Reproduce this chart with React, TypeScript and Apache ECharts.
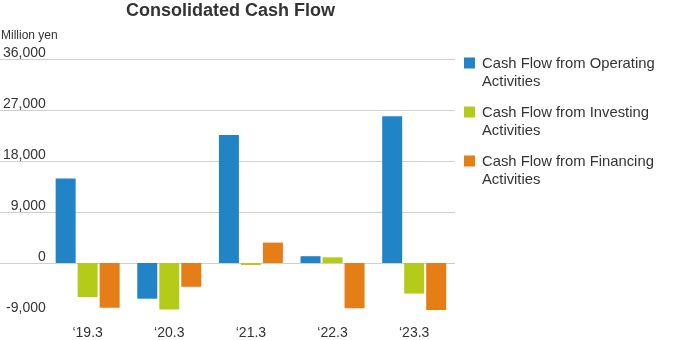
import React, { useEffect, useRef } from "react";
import * as echarts from "echarts";

const categories = ["\u201819.3", "\u201820.3", "\u201821.3", "\u201822.3", "\u201823.3"];
const operating = [14900, -6300, 22600, 1200, 25900];
const investing = [-6000, -8200, -350, 1000, -5400];
const financing = [-7900, -4200, 3600, -8000, -8300];
const seriesNames = [
  "Cash Flow from Operating\nActivities",
  "Cash Flow from Investing\nActivities",
  "Cash Flow from Financing\nActivities",
];
const colors = ["#2184c6", "#b5cb1a", "#e67e17"];
const yMin = -9000;
const yMax = 36000;
const yInterval = 9000;

const FONT = "'Liberation Sans', Arial, sans-serif";

export default function App() {
  const ref = useRef<HTMLDivElement>(null);
  useEffect(() => {
    if (!ref.current) return;
    const chart = echarts.init(ref.current, undefined, { renderer: "svg" });
    const gridTop = 59;
    const gridHeight = 255;
    const fmt = (v: number) => v.toLocaleString("en-US");
    const splitColors = ["rgba(0,0,0,0)", "#cfcfcf", "#cfcfcf", "#cfcfcf", "#cfcfcf", "#cfcfcf"];
    const datasets = [operating, investing, financing];
    chart.setOption({
      animation: false,
      textStyle: { fontFamily: FONT },
      title: [
        {
          text: "Consolidated Cash Flow",
          left: 126,
          top: 1,
          padding: 0,
          textStyle: { fontSize: 18, fontWeight: "bold", color: "#333", fontFamily: FONT },
        },
        {
          text: "Million yen",
          left: 1,
          top: 29,
          padding: 0,
          textStyle: { fontSize: 12, fontWeight: "normal", color: "#333", fontFamily: FONT },
        },
      ],
      legend: {
        orient: "vertical",
        left: 464,
        top: 54,
        padding: 0,
        itemWidth: 11,
        itemHeight: 29,
        itemGap: 13,
        icon: "path://M0,0L11,0L11,11L0,11Z M0,29L11,29L0,29Z",
        textStyle: {
          fontSize: 14.8,
          lineHeight: 18,
          color: "#333",
          fontFamily: FONT,
          padding: [0, 0, 0, 2],
        },
        data: seriesNames,
      },
      grid: [
        { left: 45, width: 410, top: gridTop, height: gridHeight },
        { left: 0, width: 455, top: gridTop, height: gridHeight },
      ],
      xAxis: [
        {
          type: "category",
          gridIndex: 0,
          data: categories,
          axisLine: { show: false },
          axisTick: { show: false },
          axisLabel: { fontSize: 14, color: "#333", margin: 11, fontFamily: FONT },
          splitLine: { show: false },
        },
        {
          type: "category",
          gridIndex: 1,
          data: categories,
          show: false,
        },
      ],
      yAxis: [
        {
          type: "value",
          gridIndex: 0,
          min: yMin,
          max: yMax,
          interval: yInterval,
          axisLine: { show: false },
          axisTick: { show: false },
          splitLine: { show: false },
          axisLabel: {
            fontSize: 14,
            color: "#333",
            margin: 1,
            verticalAlign: "bottom",
            formatter: fmt,
            fontFamily: FONT,
          },
        },
        {
          type: "value",
          gridIndex: 1,
          min: yMin,
          max: yMax,
          interval: yInterval,
          axisLine: { show: false },
          axisTick: { show: false },
          axisLabel: { show: false },
          splitLine: { show: true, lineStyle: { color: splitColors, width: 1 } },
        },
      ],
      series: datasets.map((d, i) => ({
        name: seriesNames[i],
        type: "bar",
        xAxisIndex: 0,
        yAxisIndex: 0,
        data: d,
        barWidth: 20,
        barGap: "10%",
        itemStyle: { color: colors[i] },
      })),
    });
    return () => chart.dispose();
  }, []);
  return (
    <div
      ref={ref}
      style={{ position: "fixed", left: 0, top: 0, width: 700, height: 340 }}
    />
  );
}
